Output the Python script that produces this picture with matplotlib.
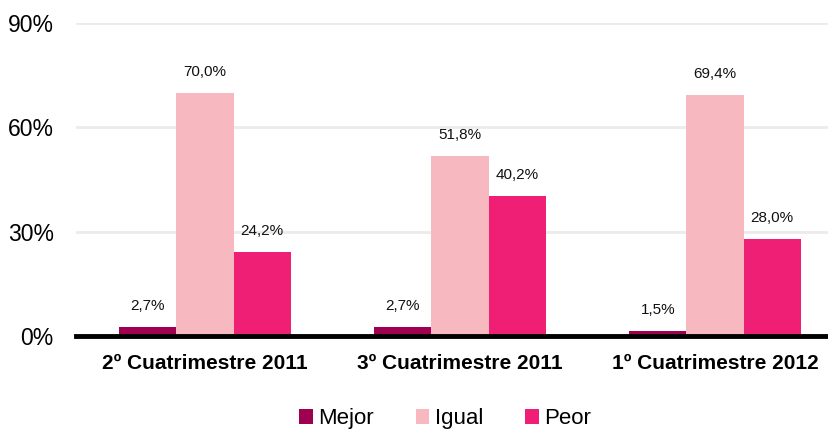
import matplotlib.pyplot as plt
import numpy as np

plt.rcParams['font.family'] = ['Liberation Sans', 'DejaVu Sans']

periodos = ['2º Cuatrimestre 2011', '3º Cuatrimestre 2011', '1º Cuatrimestre 2012']
series = ['Mejor', 'Igual', 'Peor']
mejor = [2.7, 2.7, 1.5]
igual = [70.0, 51.8, 69.4]
peor = [24.2, 40.2, 28.0]
colores = ['#A00050', '#F7B9BF', '#EE1F74']

fig = plt.figure(figsize=(8.29, 4.30), dpi=100)
ax = fig.add_axes([76 / 829, 94 / 430, 753 / 829, 313 / 430])

x = np.arange(len(periodos))
ancho = 0.224
for i, (nombre, vals, col) in enumerate(zip(series, [mejor, igual, peor], colores)):
    pos = x + (i - 1) * ancho
    ax.bar(pos, vals, ancho, color=col, label=nombre, zorder=3)
    for px, v in zip(pos, vals):
        ax.text(px, v + 4, f'{v:.1f}%'.replace('.', ','), ha='center', va='bottom',
                fontsize=11, color='#111111')

ax.set_xlim(-0.506, 2.447)
ax.set_ylim(0, 90)
ax.set_yticks([0, 30, 60, 90])
ax.set_yticklabels(['0%', '30%', '60%', '90%'], fontsize=16.5)
ax.yaxis.grid(True, color='#EBEBEB', linewidth=2, zorder=0)
ax.set_xticks(x)
ax.set_xticklabels(periodos, fontsize=15, fontweight='bold')
ax.tick_params(axis='both', length=0)
ax.tick_params(axis='x', pad=13)
ax.tick_params(axis='y', pad=16)
for s in ['top', 'right', 'left']:
    ax.spines[s].set_visible(False)
ax.spines['bottom'].set_linewidth(3.5)
ax.spines['bottom'].set_color('black')
ax.spines['bottom'].set_zorder(4)

fig.legend(loc='lower center', bbox_to_anchor=(0.537, -0.045), ncol=3, frameon=False,
           fontsize=16, handlelength=0.6, handleheight=0.6, handletextpad=0.25,
           columnspacing=1.9)

fig.savefig('out.png', dpi=100)
